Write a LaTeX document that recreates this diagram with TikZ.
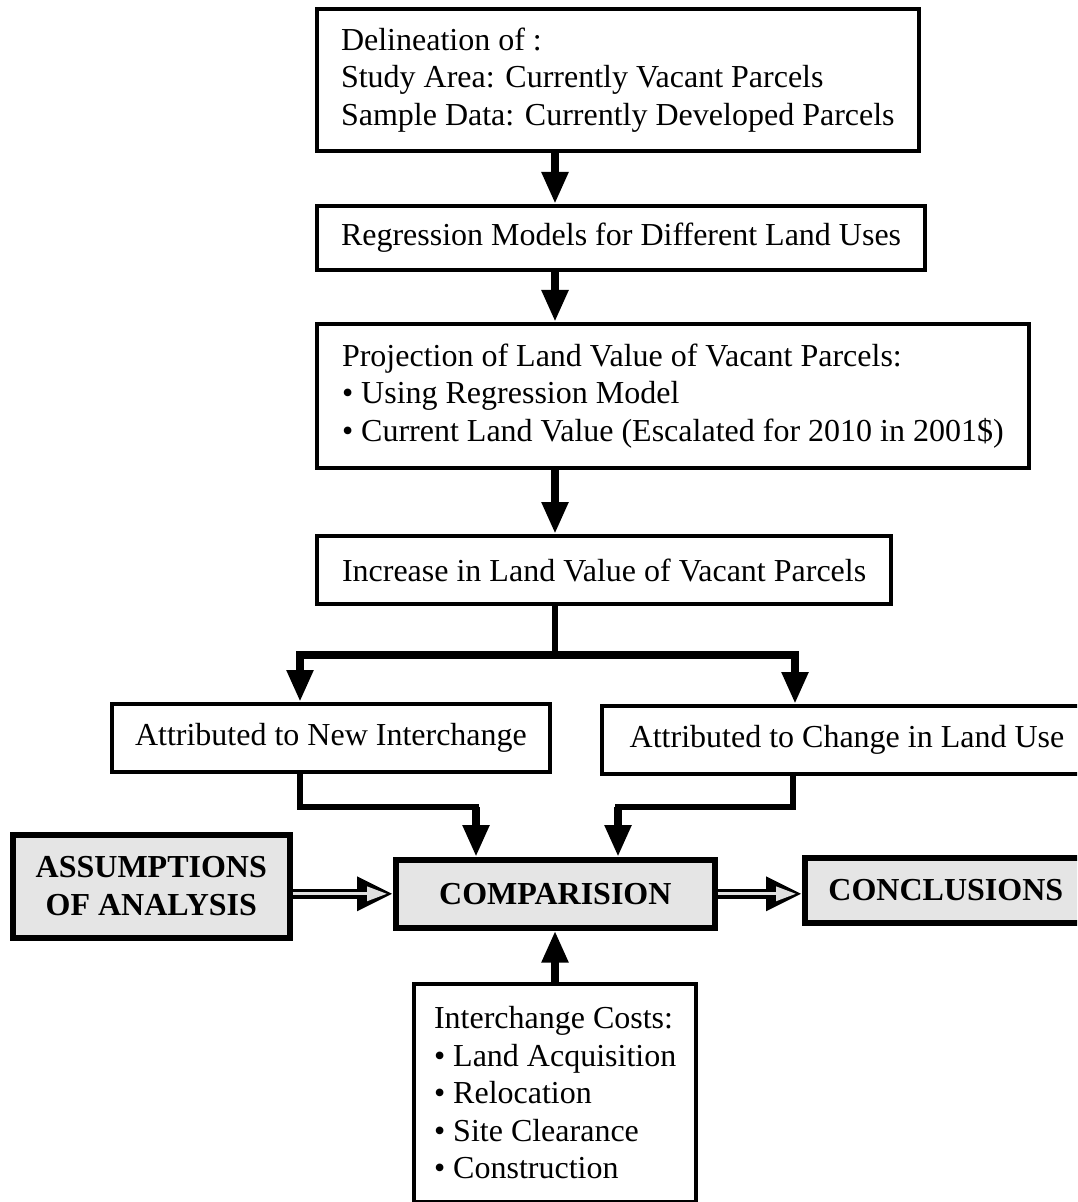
\documentclass[tikz,border=0pt]{standalone}
\usepackage{fontspec}
\setmainfont{Liberation Serif}
\usetikzlibrary{arrows.meta}

\tikzset{
  box/.style={draw,line width=2pt,anchor=north west,align=left,inner xsep=12.5pt,inner ysep=0pt},
  keybox/.style={draw,line width=2.8pt,fill=black!10,anchor=north west,align=center,inner ysep=0pt,
    font=\fontsize{16}{18.75}\selectfont\bfseries},
  flow/.style={line width=4pt,-{Triangle[length=16pt,width=12.5pt]}},
  link/.style={line width=3pt,line cap=rect},
  hollow/.style={draw=black!12,line width=1.5pt,shorten >=3pt,-{Triangle[length=10pt,width=7pt]},
    preaction={draw=black,line width=5pt,shorten >=0pt,-{Triangle[length=18pt,width=16pt]}}}
}

\begin{document}
\begin{tikzpicture}[x=0.5pt,y=-0.5pt,font=\fontsize{16}{18.75}\selectfont]
  \useasboundingbox (0,0) rectangle (1077,1202);
  \clip (0,0) rectangle (1077,1202);
  % guide points for the connectors
  \coordinate (spine) at (555,0);
  \coordinate (fork) at (555,655);
  \coordinate (forkL) at (300,655);
  \coordinate (forkR) at (795,655);
  \coordinate (dropL) at (300,0);
  \coordinate (dropR) at (793,0);
  \coordinate (joinL) at (476,807);
  \coordinate (joinR) at (618,807);

  \node[box,minimum height=71pt,inner xsep=12pt] (delin) at (315,7)
    {Delineation of :\\Study Area: Currently Vacant Parcels\\Sample Data: Currently Developed Parcels};
  \node[box,minimum height=32pt,inner xsep=12pt] (regr) at (315,204) {Regression Models for Different Land Uses};
  \node[box,minimum height=72pt] (proj) at (315,322)
    {Projection of Land Value of Vacant Parcels:\\• Using Regression Model\\• Current Land Value (Escalated for 2010 in 2001\$)};
  \node[box,minimum height=34pt] (incr) at (315,534) {Increase in Land Value of Vacant Parcels};
  \node[box,minimum height=34pt,inner xsep=11.5pt] (newint) at (110,702) {Attributed to New Interchange};
  \node[box,minimum height=34pt,minimum width=245pt,align=center] (chg) at (600,704) {Attributed to Change in Land Use};
  \node[keybox,minimum width=138.5pt,minimum height=51.5pt] (assump) at (10,832) {ASSUMPTIONS\\OF ANALYSIS};
  \node[keybox,minimum width=159.5pt,minimum height=34pt] (comp) at (393,857) {COMPARISION};
  \node[keybox,minimum width=141pt,minimum height=32.5pt] (concl) at (802,855) {CONCLUSIONS};
  \node[box,minimum height=109pt,inner xsep=10pt] (icost) at (412,982)
    {Interchange Costs:\\• Land Acquisition\\• Relocation\\• Site Clearance\\• Construction};

  % main chain
  \draw[flow] (delin.south -| spine) -- (regr.north -| spine);
  \draw[flow] (regr.south -| spine) -- (proj.north -| spine);
  \draw[flow] (proj.south -| spine) -- (incr.north -| spine);
  \draw[link] (incr.south -| spine) -- (fork);
  \draw[flow] (fork) -| (newint.north -| forkL);
  \draw[flow] (fork) -| (chg.north -| forkR);
  % merge into comparison
  \draw[link] (newint.south -| dropL) |- (joinL);
  \draw[flow] (joinL) -- (comp.north -| joinL);
  \draw[link] (chg.south -| dropR) |- (joinR);
  \draw[flow] (joinR) -- (comp.north -| joinR);
  \draw[flow] (icost.north -| spine) -- (comp.south -| spine);
  \draw[hollow] (assump.east |- comp.west) -- (comp.west);
  \draw[hollow] (comp.east) -- (concl.west |- comp.east);
\end{tikzpicture}
\end{document}
